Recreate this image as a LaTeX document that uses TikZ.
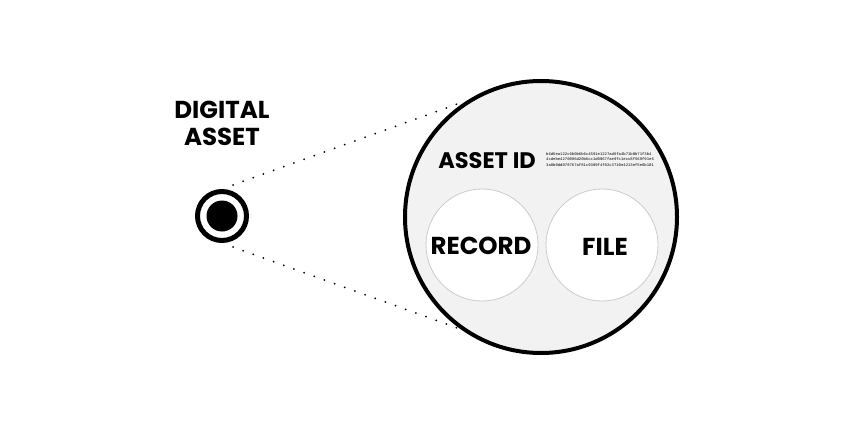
\documentclass[tikz,border=0pt]{standalone}
\usepackage{fontspec}
\setmainfont{Poppins}[BoldFont={* Bold}]
\newfontfamily\hashfont{Liberation Mono}
\definecolor{bgcircle}{HTML}{F2F2F2}
\definecolor{subedge}{HTML}{CCCCCC}
\tikzset{
  lbl/.style={font=\fontsize{24.5}{27}\selectfont\bfseries, text=black, inner sep=0pt, align=center},
  subcircle/.style={circle, draw=subedge, line width=0.8pt, fill=white, minimum size=112pt, inner sep=0pt},
  dotline/.style={line width=2pt, line cap=round, dash pattern=on 0pt off 10.8pt},
  hashline/.style={font=\hashfont\fontsize{3.9}{4.2}\selectfont, inner sep=0pt, text height=2.7pt, text depth=0.5pt, anchor=base west},
}
\begin{document}
\begin{tikzpicture}[x=1pt,y=-1pt]
\useasboundingbox (0,0) rectangle (846,436);
% digital asset
\node[lbl, anchor=base] (da) at (222,118) {DIGITAL};
\node[lbl, anchor=base] (da2) at (222,145) {ASSET};
\node[circle, draw=black, line width=5pt, minimum size=49pt, inner sep=0pt] (ring) at (222,216) {};
\node[circle, fill=black, minimum size=31pt, inner sep=0pt] (core) at (222,216) {};
% big circle
\node[circle, draw=black, line width=4pt, fill=bgcircle, minimum size=272pt, inner sep=0pt] (big) at (541,217) {};
\node[subcircle] (rec) at (482,245) {};
\node[subcircle] (file) at (602,245) {};
\node[lbl, anchor=base] at (481,254) {RECORD};
\node[lbl, anchor=base] at (605,255) {FILE};
\node[lbl, anchor=base, font=\fontsize{22.5}{24}\selectfont\bfseries] (aid) at (487,168) {ASSET ID};
\node[hashline] (h1) at (546,155) {b6d6ea122c6b0b6b6c4591e1227ad6fa4b71b0b71f3b4};
\node[hashline] (h2) at (546,160.5) {4cdebe4270096d20b6cc1d0067fae9fc1ecc8f569f91e6};
\node[hashline] (h3) at (546,166) {3a8b0dd078767af81c9309f4f82c3710e4213ef5e6b101};
% dotted lines
\coordinate (t1) at (233,185);
\coordinate (t2) at (460,103);
\coordinate (b1) at (233,247);
\coordinate (b2) at (460,329);
\draw[dotline] (t1) -- (t2);
\draw[dotline] (b1) -- (b2);
\end{tikzpicture}
\end{document}
